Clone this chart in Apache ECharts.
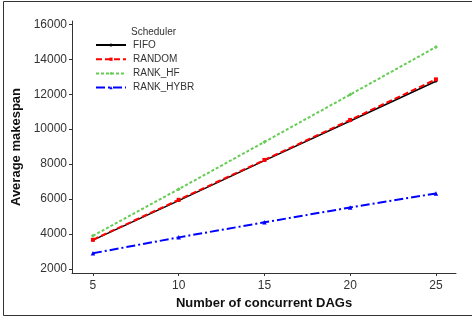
<!DOCTYPE html>
<html>
<head>
<meta charset="utf-8">
<script src="https://cdn.jsdelivr.net/npm/echarts@6/dist/echarts.min.js"></script>
<style>
    html, body { margin: 0; padding: 0; background: #fff; }
    #chart { width: 472px; height: 320px; }
</style>
</head>
<body>
<div id="chart"></div>
<script>
var dagCounts = [5, 10, 15, 20, 25];
var fifo = [3650, 5910, 8200, 10470, 12740];
var random = [3670, 5960, 8240, 10530, 12850];
var rankHf = [3900, 6570, 9270, 11980, 14700];
var rankHybr = [2900, 3810, 4670, 5520, 6320];
var xTicks = [5, 10, 15, 20, 25];
var yTicks = [2000, 4000, 6000, 8000, 10000, 12000, 14000, 16000];

var fontFamily = '"Liberation Sans", Arial, sans-serif';

function pairs(values) {
    return dagCounts.map(function (x, i) {
        return [x, values[i]];
    });
}

function makeSeries(name, values, color, lineType, symbol, symbolSize, width) {
    return {
        name: name,
        type: 'line',
        data: pairs(values),
        symbol: symbol,
        symbolSize: symbolSize,
        showSymbol: true,
        color: color,
        lineStyle: {color: color, width: width, type: lineType},
        itemStyle: {color: color},
        animation: false
    };
}

var chart = echarts.init(document.getElementById('chart'));

var option = {
    backgroundColor: '#fff',
    animation: false,
    textStyle: {fontFamily: fontFamily},
    graphic: [{
        type: 'rect',
        shape: {x: 3.5, y: 1.5, width: 480, height: 314},
        style: {fill: 'none', stroke: '#333', lineWidth: 1},
        silent: true
    }],
    title: {
        text: 'Scheduler',
        left: 126,
        top: 22,
        textStyle: {fontFamily: fontFamily, fontSize: 10, fontWeight: 'normal', color: '#333'}
    },
    legend: {
        orient: 'vertical',
        left: 95,
        top: 39,
        padding: 0,
        itemWidth: 30,
        itemHeight: 4,
        itemGap: 2.2,
        textStyle: {fontFamily: fontFamily, fontSize: 10, color: '#333', padding: [0, 0, 0, 2], lineHeight: 12},
        data: ['FIFO', 'RANDOM', 'RANK_HF', 'RANK_HYBR']
    },
    grid: {left: 72, right: 16, top: 21, bottom: 47},
    xAxis: {
        type: 'value',
        min: 3.78,
        max: 26.17,
        name: 'Number of concurrent DAGs',
        nameLocation: 'middle',
        nameGap: 23,
        nameTextStyle: {fontFamily: fontFamily, fontSize: 13, fontWeight: 'bold', color: '#111'},
        axisLine: {lineStyle: {color: '#333', width: 1}},
        axisTick: {show: true, length: 3, customValues: xTicks, lineStyle: {color: '#333'}},
        axisLabel: {customValues: xTicks, margin: 7, fontSize: 12, color: '#333', fontFamily: fontFamily},
        splitLine: {show: false}
    },
    yAxis: {
        type: 'value',
        min: 1771,
        max: 16190,
        name: 'Average makespan',
        nameLocation: 'middle',
        nameGap: 48,
        nameTextStyle: {fontFamily: fontFamily, fontSize: 13, fontWeight: 'bold', color: '#111'},
        axisLine: {show: true, lineStyle: {color: '#333', width: 1}},
        axisTick: {show: true, length: 3, customValues: yTicks, lineStyle: {color: '#333'}},
        axisLabel: {
            customValues: yTicks,
            margin: 5,
            fontSize: 12,
            color: '#333',
            fontFamily: fontFamily,
            formatter: function (value) {
                return String(value);
            }
        },
        splitLine: {show: false}
    },
    series: [
        makeSeries('FIFO', fifo, '#000000', 'solid', 'circle', 2.5, 1.5),
        makeSeries('RANDOM', random, '#ff0000', [6, 3], 'rect', 4, 2),
        makeSeries('RANK_HF', rankHf, '#66cc55', [3, 2], 'diamond', 4, 2),
        makeSeries('RANK_HYBR', rankHybr, '#0000ff', [9, 3, 2, 3], 'triangle', 4.5, 2)
    ]
};

chart.setOption(option);
</script>
</body>
</html>
